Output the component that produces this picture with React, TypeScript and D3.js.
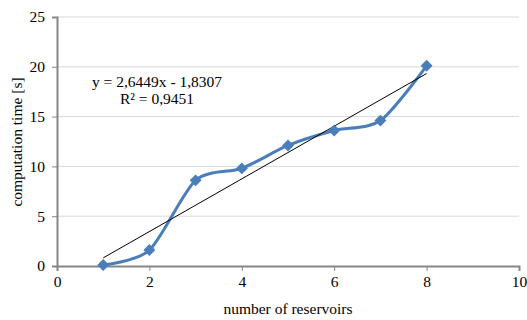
import React, { useEffect, useRef } from "react";
import * as d3 from "d3";

// reservoirs vs computation time
const reservoirs = [1, 2, 3, 4, 5, 6, 7, 8];
const compTime = [0.1, 1.6, 8.6, 9.8, 12.1, 13.6, 14.6, 20.1];
const xTicks = [0, 2, 4, 6, 8, 10];
const yTicks = [0, 5, 10, 15, 20, 25];
// linear trend shown on the chart
const slope = 2.6449;
const intercept = -1.8307;
const eqLabel = "y = 2,6449x - 1,8307";
const r2Label = "R² = 0,9451";

const App = () => {
  const ref = useRef<SVGSVGElement>(null);

  useEffect(() => {
    const svg = d3.select(ref.current);
    svg.selectAll("*").remove();

    const margin = { top: 17, left: 57 };
    const w = 519 - margin.left;
    const h = 266 - margin.top;

    const x = d3.scaleLinear().domain([0, 10]).range([margin.left, margin.left + w]);
    const y = d3.scaleLinear().domain([0, 25]).range([margin.top + h, margin.top]);

    const font = "'Liberation Serif', 'Times New Roman', serif";
    const fs = 15.5;

    // gridlines
    svg.append("g")
      .selectAll("line")
      .data(yTicks.filter(d => d > 0))
      .join("line")
      .attr("x1", x(0)).attr("x2", x(10))
      .attr("y1", d => y(d)).attr("y2", d => y(d))
      .attr("stroke", "#d9d9d9").attr("stroke-width", 1);

    // x axis
    const xa = svg.append("g")
      .attr("transform", `translate(0,${y(0)})`)
      .call(d3.axisBottom(x).tickValues(xTicks).tickSize(5).tickPadding(5));
    xa.select(".domain").attr("stroke", "#868686").attr("stroke-width", 2);
    xa.selectAll(".tick line").attr("stroke", "#868686").attr("stroke-width", 1);
    xa.selectAll(".tick text").attr("font-family", font).attr("font-size", fs).attr("fill", "#000");

    // y axis
    const ya = svg.append("g")
      .attr("transform", `translate(${x(0)},0)`)
      .call(d3.axisLeft(y).tickValues(yTicks).tickSize(5).tickPadding(7));
    ya.select(".domain").attr("stroke", "#868686").attr("stroke-width", 2);
    ya.selectAll(".tick line").attr("stroke", "#868686").attr("stroke-width", 1);
    ya.selectAll(".tick text").attr("font-family", font).attr("font-size", fs).attr("fill", "#000");

    // axis titles
    svg.append("text")
      .attr("x", x(5)).attr("y", 314)
      .attr("text-anchor", "middle")
      .attr("font-family", font).attr("font-size", fs)
      .text("number of reservoirs");
    svg.append("text")
      .attr("transform", `translate(22,142) rotate(-90)`)
      .attr("text-anchor", "middle")
      .attr("font-family", font).attr("font-size", fs)
      .text("computation time [s]");

    const data = reservoirs.map((r, i) => ({ x: r, y: compTime[i] }));

    // smoothed series
    const line = d3.line<{ x: number; y: number }>()
      .x(d => x(d.x)).y(d => y(d.y))
      .curve(d3.curveCardinal.tension(0.2));
    svg.append("path")
      .datum(data)
      .attr("d", line)
      .attr("fill", "none")
      .attr("stroke", "#4a7ebb")
      .attr("stroke-width", 3);

    // trend line
    const x0 = d3.min(reservoirs)!, x1 = d3.max(reservoirs)!;
    svg.append("line")
      .attr("x1", x(x0)).attr("y1", y(slope * x0 + intercept))
      .attr("x2", x(x1)).attr("y2", y(slope * x1 + intercept))
      .attr("stroke", "#000").attr("stroke-width", 1);

    // markers
    svg.append("g")
      .selectAll("path")
      .data(data)
      .join("path")
      .attr("transform", d => `translate(${x(d.x)},${y(d.y)})`)
      .attr("d", d3.symbol(d3.symbolDiamond2, 90))
      .attr("fill", "#4a7ebb");

    // equation labels
    svg.append("text")
      .attr("x", 157).attr("y", 87)
      .attr("text-anchor", "middle")
      .attr("font-family", font).attr("font-size", fs)
      .text(eqLabel);
    svg.append("text")
      .attr("x", 157).attr("y", 104)
      .attr("text-anchor", "middle")
      .attr("font-family", font).attr("font-size", fs)
      .text(r2Label);
  }, []);

  return (
    <svg ref={ref} width={527} height={320}
      style={{ position: "absolute", left: 0, top: 0, background: "#fff" }} />
  );
};

export default App;
